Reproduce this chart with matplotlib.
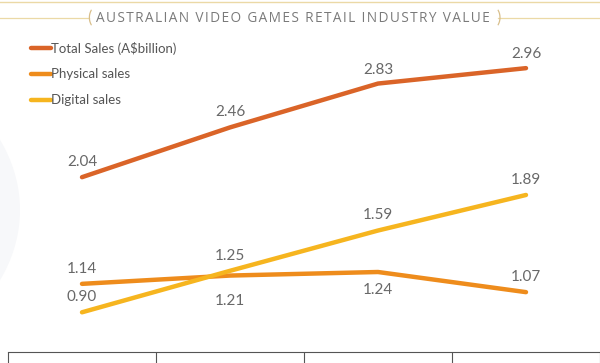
import matplotlib.pyplot as plt
from matplotlib.patches import Ellipse

years = ["2013", "2014", "2015", "2016"]
total_sales = [2.04, 2.46, 2.83, 2.96]
physical_sales = [1.14, 1.21, 1.24, 1.07]
digital_sales = [0.90, 1.25, 1.59, 1.89]

series_names = ["Total Sales (A$billion)", "Physical sales", "Digital sales"]
colors = ["#DA6428", "#EE8C1C", "#F6B51F"]
title = "AUSTRALIAN VIDEO GAMES RETAIL INDUSTRY VALUE"

# label offsets in points (positive = above)
total_off = [11, 11, 10, 10]
physical_off = [11, -18, -13, 11]
digital_off = [11, 11, 11, 11]

plt.rcParams["font.family"] = ["Lato", "DejaVu Sans"]

fig = plt.figure(figsize=(6, 3.63), dpi=100)
fig.patch.set_facecolor("white")

# faint decoration on the left edge
deco = fig.add_axes([0, 0, 1, 1], zorder=0)
deco.set_xlim(0, 600)
deco.set_ylim(363, 0)
deco.axis("off")
deco.add_patch(Ellipse((-190, 210), 420, 330, facecolor="#F7F8FA", edgecolor="none"))

ax = fig.add_axes([8 / 600, 11 / 363, 592 / 600, 352 / 363], zorder=1)
ax.patch.set_alpha(0)
x = range(len(years))
ax.set_xlim(-0.5, len(years) - 0.5)
ax.set_ylim(0.565, 3.535)

for vals, col, offs, name in [
    (total_sales, colors[0], total_off, series_names[0]),
    (physical_sales, colors[1], physical_off, series_names[1]),
    (digital_sales, colors[2], digital_off, series_names[2]),
]:
    ax.plot(x, vals, color=col, lw=3.2, solid_capstyle="round", label=name)
    for xi, v, o in zip(x, vals, offs):
        ax.annotate(f"{v:.2f}", (xi, v), xytext=(0, o), textcoords="offset points",
                    ha="center", va="center", fontsize=11, color="#686868")

for s in ["top", "left", "right"]:
    ax.spines[s].set_visible(False)
ax.spines["bottom"].set_color("#555555")
ax.spines["bottom"].set_linewidth(0.8)
ax.set_yticks([])
ax.set_xticks([-0.5, 0.5, 1.5, 2.5, 3.5])
ax.set_xticklabels([])
ax.tick_params(axis="x", direction="out", length=8, color="#555555", width=0.8)

leg = ax.legend(loc="upper left", bbox_to_anchor=(0.03, 0.897), frameon=False,
                fontsize=9.5, handlelength=1.5, handletextpad=0.0,
                labelspacing=1.05, borderaxespad=0)
for t in leg.get_texts():
    t.set_color("#555555")

# title with decorative rules
gold = "#EBD9A6"
deco.plot([0, 600], [2, 2], color=gold, lw=1.0)
deco.plot([0, 89], [18, 18], color=gold, lw=0.9)
deco.plot([498, 600], [18, 18], color=gold, lw=0.9)
deco.text(87, 18.5, "(", fontsize=12, color="#D8BE8A", ha="left", va="center")
deco.text(501, 18.5, ")", fontsize=12, color="#D8BE8A", ha="right", va="center")
deco.text(293, 18, "\u200a".join(title), fontsize=9.8,
          color="#7a7a7a", ha="center", va="center", family=["Open Sans", "DejaVu Sans"])

fig.savefig("out.png", dpi=100, facecolor="white")
